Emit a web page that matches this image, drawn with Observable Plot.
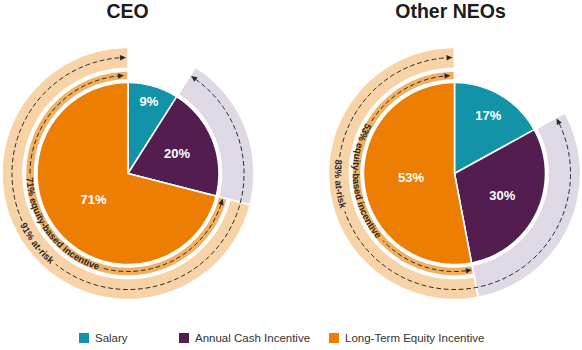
<!DOCTYPE html>
<html><head><meta charset="utf-8">
<script src="https://cdn.jsdelivr.net/npm/d3@7"></script>
<script src="https://cdn.jsdelivr.net/npm/@observablehq/plot@0.6"></script>
<style>
body{margin:0;background:#fff;font-family:"Liberation Sans",Arial,sans-serif;}
#legend{position:relative;width:582px;height:32px;}
.item{position:absolute;top:14px;height:12px;display:flex;align-items:center;font-size:11.5px;color:#333;white-space:nowrap;}
.sw{width:10px;height:10px;margin-right:6px;}
</style></head><body><div id="chart"></div><div id="legend"></div>
<script>
// ---- data ----
const groups = ["CEO", "Other NEOs"];
const categories = ["Salary", "Annual Cash Incentive", "Long-Term Equity Incentive"];
const ceoValues = [9, 20, 71];
const neoValues = [17, 30, 53];
const groupValues = [ceoValues, neoValues];

// ---- style / layout ----
const sliceColors = ["#1293A8", "#531E4F", "#EC7F03"];
const midRingColor = "#F3AF60", peachColor = "#F8D3A7", lavenderColor = "#DFD9E5";
const W = 582, H = 318, U = 91, CY = 173;
const centersPx = [127.5, 454];
const titlePx = [127, 450];
const cxs = centersPx.map(c => c / U);
const R_MID0 = 1.027, R_MID1 = 1.126, R_OUT0 = 1.154, R_OUT1 = 1.385;
const R_DASH_IN = 1.077, R_DASH_OUT = 1.275;
const TAU = Math.PI * 2;
const FONT_RING = 9.5;

const pt = (cx, r, f) => ({x: cx + r * Math.sin(TAU * f), y: r * Math.cos(TAU * f)});
function arc(cx, r, f0, f1) {
  const n = Math.max(2, Math.ceil(Math.abs(f1 - f0) * 240));
  return d3.range(n + 1).map(i => pt(cx, r, f0 + (f1 - f0) * i / n));
}
function sector(id, cx, r0, r1, f0, f1, color) {
  const pts = arc(cx, r1, f0, f1);
  const inner = r0 === 0 ? [{x: cx, y: 0}] : arc(cx, r0, f1, f0);
  return pts.concat(inner).map(p => ({...p, id, color}));
}

const canvas = document.createElement("canvas").getContext("2d");
canvas.font = `bold ${FONT_RING}px "Liberation Sans"`;
const measure = s => canvas.measureText(s).width;

const polys = [], dashes = [], arrows = [], labels = [], ringTexts = [];
groups.forEach((g, gi) => {
  const vals = groupValues[gi];
  const total = d3.sum(vals);
  const cum = [0, ...d3.cumsum(vals).map(v => v / total)];
  const cx = cxs[gi];
  // rings
  polys.push(...sector(`lav${gi}`, cx, R_MID0, R_OUT1, cum[1], cum[2], lavenderColor));
  polys.push(...sector(`mid${gi}`, cx, R_MID0, R_MID1, cum[2], 1, midRingColor));
  polys.push(...sector(`out${gi}`, cx, R_OUT0, R_OUT1, cum[2], 1, peachColor));
  // slices
  vals.forEach((v, i) => {
    polys.push(...sector(`s${gi}${i}`, cx, 0, 1, cum[i], cum[i + 1], sliceColors[i]));
    const frac = v / total;
    const lr = frac < 0.12 ? 0.82 : frac < 0.19 ? 0.73 : frac < 0.4 ? 0.58 : 0.48;
    const p = pt(cx, lr, (cum[i] + cum[i + 1]) / 2);
    labels.push({...p, text: `${v}%`});
  });
  // dashed double arrows with text gaps
  const ltiMid = (cum[2] + 1) / 2;
  const specs = [
    {r: R_DASH_IN, f0: cum[2], f1: 1, text: `${vals[2]}% equity-based incentive`, endInset: 4},
    {r: R_DASH_OUT, f0: cum[1], f1: 1, text: `${vals[1] + vals[2]}% at-risk`, endInset: 2}
  ];
  specs.forEach((s, si) => {
    const circ = TAU * s.r * U;
    const fs = s.f0 + 1 / circ, fe = s.f1 - s.endInset / circ;
    const L = 6 / circ;
    const half = (measure(s.text) / 2 + 3) / circ;
    const a0 = fs + L, a1 = fe - L;
    const segs = [[a0, ltiMid - half], [ltiMid + half, a1]];
    segs.forEach(([u, v], k) => arc(cx, s.r, u, v).forEach(p => dashes.push({...p, id: `d${gi}${si}${k}`})));
    [[fs, a0], [fe, a1]].forEach(([tip, base], k) => {
      const hw = 2.8 / U;
      const id = `a${gi}${si}${k}`;
      [pt(cx, s.r, tip), pt(cx, s.r + hw, base), pt(cx, s.r - hw, base)].forEach(p => arrows.push({...p, id}));
    });
    ringTexts.push({gi, r: s.r, fStart: cum[2], text: s.text});
  });
});
const titles = groups.map((g, i) => ({x: titlePx[i] / U, y: (CY - 11.5) / U, text: g}));

const chart = Plot.plot({
  width: W, height: H,
  margin: 0, marginTop: 0, marginBottom: 0, marginLeft: 0, marginRight: 0,
  x: {domain: [0, W / U], range: [0, W], axis: null},
  y: {domain: [-(H - CY) / U, CY / U], range: [H, 0], axis: null},
  color: {type: "identity"},
  style: {fontFamily: "'Liberation Sans', Arial, sans-serif", background: "#fff"},
  marks: [
    Plot.line(polys, {x: "x", y: "y", z: "id", fill: "color", stroke: "white", strokeWidth: 1.6, curve: "linear-closed"}),
    Plot.line(dashes, {x: "x", y: "y", z: "id", stroke: "#2b2b2b", strokeWidth: 1, strokeDasharray: "4,3.5"}),
    Plot.line(arrows, {x: "x", y: "y", z: "id", fill: "#2b2b2b", stroke: "none", curve: "linear-closed"}),
    Plot.text(labels, {x: "x", y: "y", text: "text", fill: "white", fontSize: 13, fontWeight: "bold"}),
    Plot.text(titles, {x: "x", y: "y", text: "text", fill: "#1c1c1c", fontSize: 19.5, fontWeight: "bold"})
  ]
});

// text along the rings, positioned with the plot's own scales
const xs = chart.scale("x"), ys = chart.scale("y");
const NS = "http://www.w3.org/2000/svg";
const defs = document.createElementNS(NS, "defs");
chart.appendChild(defs);
const tg = document.createElementNS(NS, "g");
chart.appendChild(tg);
ringTexts.forEach((t, i) => {
  const cxp = xs.apply(cxs[t.gi]), cyp = ys.apply(0);
  const rp = xs.apply(cxs[t.gi] + t.r) - cxp + 3.3;
  const P = f => [cxp + rp * Math.sin(TAU * f), cyp - rp * Math.cos(TAU * f)];
  const [x0, y0] = P(1), [x1, y1] = P(t.fStart);
  const large = (1 - t.fStart) > 0.5 ? 1 : 0;
  const path = document.createElementNS(NS, "path");
  path.setAttribute("id", `ringpath${i}`);
  path.setAttribute("d", `M${x0},${y0}A${rp},${rp} 0 ${large} 0 ${x1},${y1}`);
  path.setAttribute("fill", "none");
  defs.appendChild(path);
  const text = document.createElementNS(NS, "text");
  text.setAttribute("font-size", FONT_RING);
  text.setAttribute("font-weight", "bold");
  text.setAttribute("fill", "#2a2a2a");
  const tp = document.createElementNS(NS, "textPath");
  tp.setAttribute("href", `#ringpath${i}`);
  tp.setAttribute("startOffset", "50%");
  tp.setAttribute("text-anchor", "middle");
  tp.textContent = t.text;
  text.appendChild(tp);
  tg.appendChild(text);
});
document.getElementById("chart").appendChild(chart);

// legend
const legendLeft = [79, 179, 329];
const legend = document.getElementById("legend");
categories.forEach((c, i) => {
  const it = document.createElement("div");
  it.className = "item";
  it.style.left = legendLeft[i] + "px";
  it.innerHTML = `<span class="sw" style="background:${sliceColors[i]}"></span><span>${c}</span>`;
  legend.appendChild(it);
});
</script></body></html>
